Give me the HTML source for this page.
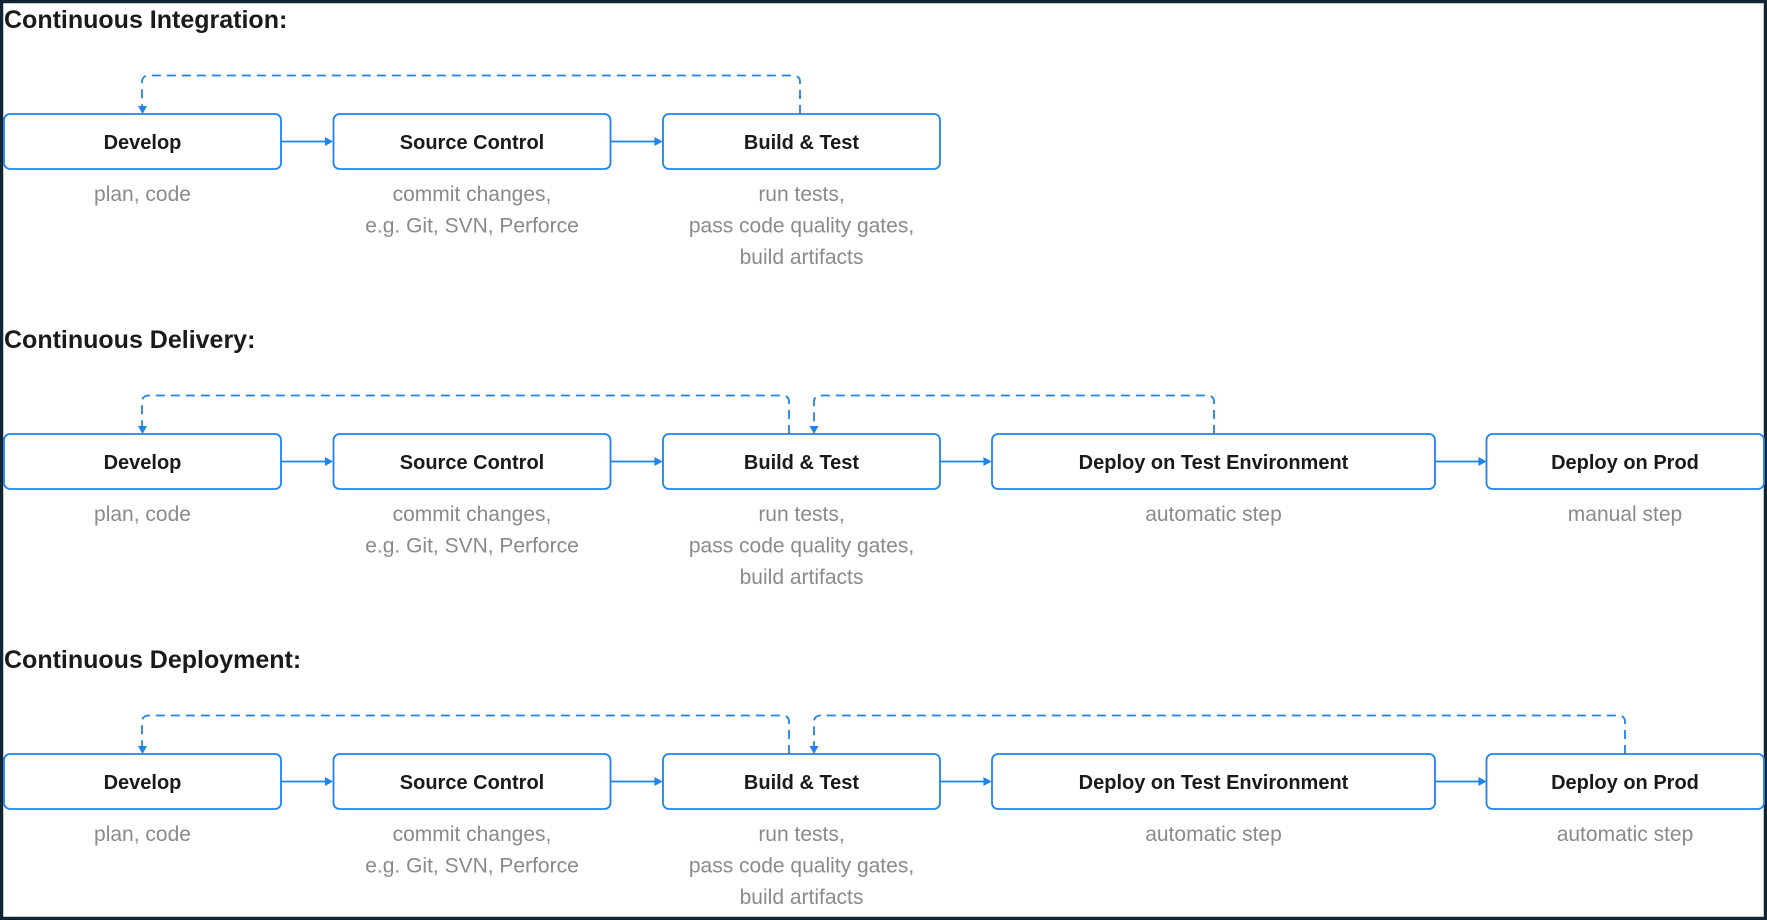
<!DOCTYPE html>
<html><head><meta charset="utf-8"><style>
html,body{margin:0;padding:0;background:#fff;}
svg{display:block;}
text{font-family:"Liberation Sans",sans-serif;}
.t{font-size:25px;fill:#1a1a1a;font-weight:600;}
.b{font-size:20px;fill:#1a1a1a;font-weight:600;text-anchor:middle;dominant-baseline:central;}
.s{font-size:21px;fill:#8a8a8a;text-anchor:middle;dominant-baseline:central;}
.box{fill:#fff;stroke:#1e82f0;stroke-width:1.8;}
.ln{stroke:#1e82f0;stroke-width:1.8;fill:none;}
.d{stroke:#1e82f0;stroke-width:1.8;fill:none;stroke-dasharray:9 6;}
.ah{fill:#1e82f0;}
</style></head><body>
<svg width="1767" height="920" viewBox="0 0 1767 920" xmlns="http://www.w3.org/2000/svg">
<rect x="1.5" y="1.5" width="1764" height="917" fill="#fff" stroke="#0f2430" stroke-width="3.5"/>
<defs>
<g id="r3">
<rect class="box" x="4" y="0" width="277" height="55" rx="6"/>
<rect class="box" x="333.5" y="0" width="277" height="55" rx="6"/>
<rect class="box" x="663" y="0" width="277" height="55" rx="6"/>
<line class="ln" x1="281" y1="27.5" x2="326" y2="27.5"/><path class="ah" d="M333,27.5 l-8,-4.5 v9z"/>
<line class="ln" x1="610.5" y1="27.5" x2="655" y2="27.5"/><path class="ah" d="M662.5,27.5 l-8,-4.5 v9z"/>
<text class="b" x="142.5" y="29">Develop</text>
<text class="b" x="472" y="29">Source Control</text>
<text class="b" x="801.5" y="29">Build &amp; Test</text>
<text class="s" x="142.5" y="80.5">plan, code</text>
<text class="s" x="472" y="80.5">commit changes,</text>
<text class="s" x="472" y="112">e.g. Git, SVN, Perforce</text>
<text class="s" x="801.5" y="80.5">run tests,</text>
<text class="s" x="801.5" y="112">pass code quality gates,</text>
<text class="s" x="801.5" y="143.5">build artifacts</text>
</g>
<g id="r5">
<use href="#r3"/>
<rect class="box" x="992" y="0" width="443" height="55" rx="6"/>
<rect class="box" x="1486.5" y="0" width="277.5" height="55" rx="6"/>
<line class="ln" x1="940" y1="27.5" x2="984" y2="27.5"/><path class="ah" d="M991.5,27.5 l-8,-4.5 v9z"/>
<line class="ln" x1="1435" y1="27.5" x2="1479" y2="27.5"/><path class="ah" d="M1486.5,27.5 l-8,-4.5 v9z"/>
<text class="b" x="1213.5" y="29">Deploy on Test Environment</text>
<text class="b" x="1625" y="29">Deploy on Prod</text>
<text class="s" x="1213.5" y="80.5">automatic step</text>
</g>
</defs>

<text class="t" x="4" y="28">Continuous Integration:</text>
<text class="t" x="4" y="348">Continuous Delivery:</text>
<text class="t" x="4" y="668">Continuous Deployment:</text>

<g transform="translate(0,114)">
<use href="#r3"/>
<path class="d" d="M800,0 V-32.5 a6,6 0 0 0 -6,-6 H148 a6,6 0 0 0 -6,6 V-8"/>
<path class="ah" d="M142.5,0 l-4.5,-8 h9z"/>
</g>

<g transform="translate(0,434)">
<use href="#r5"/>
<text class="s" x="1625" y="80.5">manual step</text>
<path class="d" d="M789,0 V-32.5 a6,6 0 0 0 -6,-6 H148 a6,6 0 0 0 -6,6 V-8"/>
<path class="ah" d="M142.5,0 l-4.5,-8 h9z"/>
<path class="d" d="M1214,0 V-32.5 a6,6 0 0 0 -6,-6 H820 a6,6 0 0 0 -6,6 V-8"/>
<path class="ah" d="M814,0 l-4.5,-8 h9z"/>
</g>

<g transform="translate(0,754)">
<use href="#r5"/>
<text class="s" x="1625" y="80.5">automatic step</text>
<path class="d" d="M789,0 V-32.5 a6,6 0 0 0 -6,-6 H148 a6,6 0 0 0 -6,6 V-8"/>
<path class="ah" d="M142.5,0 l-4.5,-8 h9z"/>
<path class="d" d="M1625,0 V-32.5 a6,6 0 0 0 -6,-6 H820 a6,6 0 0 0 -6,6 V-8"/>
<path class="ah" d="M814,0 l-4.5,-8 h9z"/>
</g>
</svg>
</body></html>
